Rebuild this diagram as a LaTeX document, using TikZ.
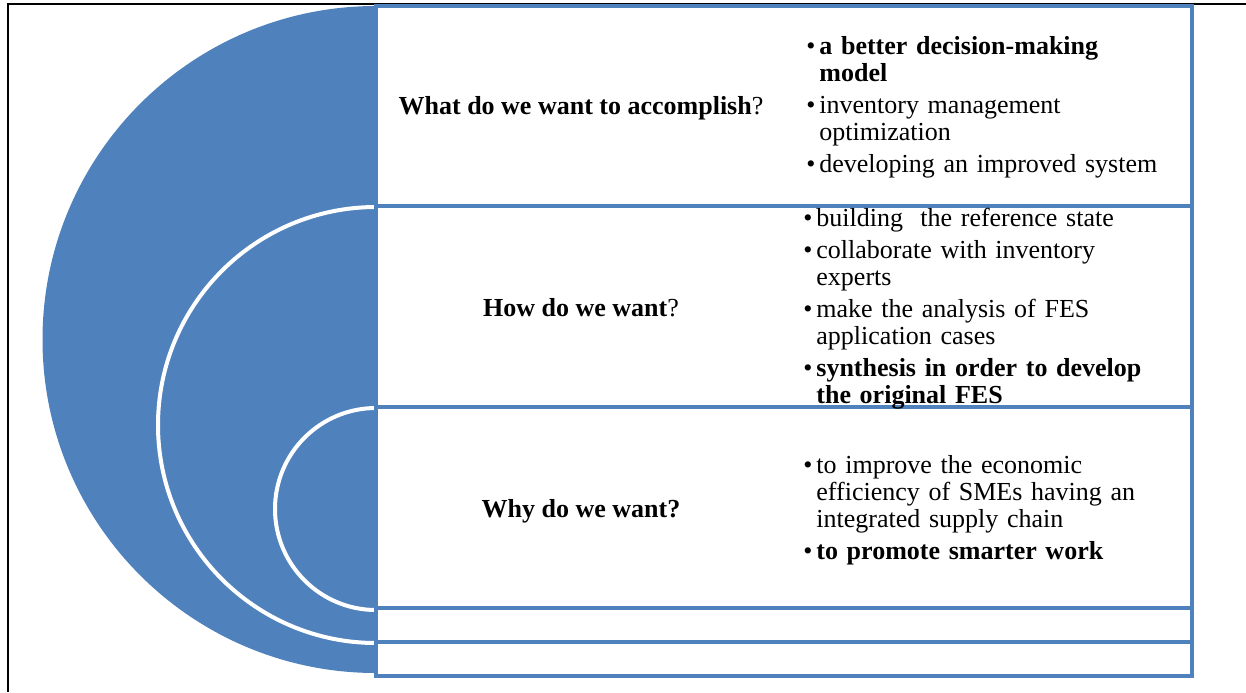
\documentclass[tikz,border=0pt]{standalone}
\usepackage{fontspec}
\setmainfont{Liberation Serif}
\usepackage{tikz}
\definecolor{boxblue}{HTML}{4F81BD}
\newcommand{\bitem}[1]{\noindent\hangindent=6.5pt\hangafter=1\makebox[6.5pt][l]{\textbullet}#1\par}
\tikzset{
	question/.style={
		font=\fontsize{13}{13.5}\selectfont,
		text centered,
		inner sep=0pt,
	},
	bullets/.style={
		anchor=west,
		text width=200pt,
		align=left,
		inner sep=0pt,
		font=\fontsize{13}{13.5}\selectfont,
		execute at begin node={\setlength{\parskip}{2.5pt}},
	},
	panel/.style={
		draw=boxblue,
		line width=2pt,
	},
	ring/.style={
		draw=white,
		line width=2pt,
	},
}

\begin{document}
\begin{tikzpicture}[x=0.5pt,y=-0.5pt]
		\useasboundingbox (0,0) rectangle (1246,692);

		% outer frame
		\draw[line width=1pt] (8,692) -- (8,4) -- (1246,4);

		% blue half disc with the two white rings
		\fill[boxblue] (376,6) arc[start angle=90,end angle=270,radius=166.75pt] -- cycle;
		\draw[ring] (376,207) arc[start angle=90,end angle=270,radius=109pt];
		\draw[ring] (376,408) arc[start angle=90,end angle=270,radius=50.5pt];

		% boxes
		\draw[panel] (376,6) rectangle (1192,206);
		\draw[panel] (376,206) rectangle (1192,407);
		\draw[panel] (376,407) rectangle (1192,608);
		\draw[panel] (376,608) rectangle (1192,642);
		\draw[panel] (376,642) rectangle (1192,676);

		% questions
		\node[question] (what) at (581,108) {\textbf{What do we want to accomplish}?};
		\node[question] (how) at (581,308) {\textbf{How do we want}?};
		\node[question] (why) at (581,511) {\textbf{Why do we want?}};

		% answers
		\node[bullets] (whatlist) at (806,107) {%
			\bitem{\textbf{a better decision-making\newline model}}
			\bitem{inventory management\newline optimization}
			\bitem{developing an improved system}};
		\node[bullets] (howlist) at (803,309) {%
			\bitem{building~ the reference state}
			\bitem{collaborate with inventory\newline experts}
			\bitem{make the analysis of FES\newline application cases}
			\bitem{\textbf{synthesis in order to develop\newline the original FES}}};
		\node[bullets] (whylist) at (803,510) {%
			\bitem{to improve the economic\newline efficiency of SMEs having an\newline integrated supply chain}
			\bitem{\textbf{to promote smarter work}}};

	\end{tikzpicture}
\end{document}
